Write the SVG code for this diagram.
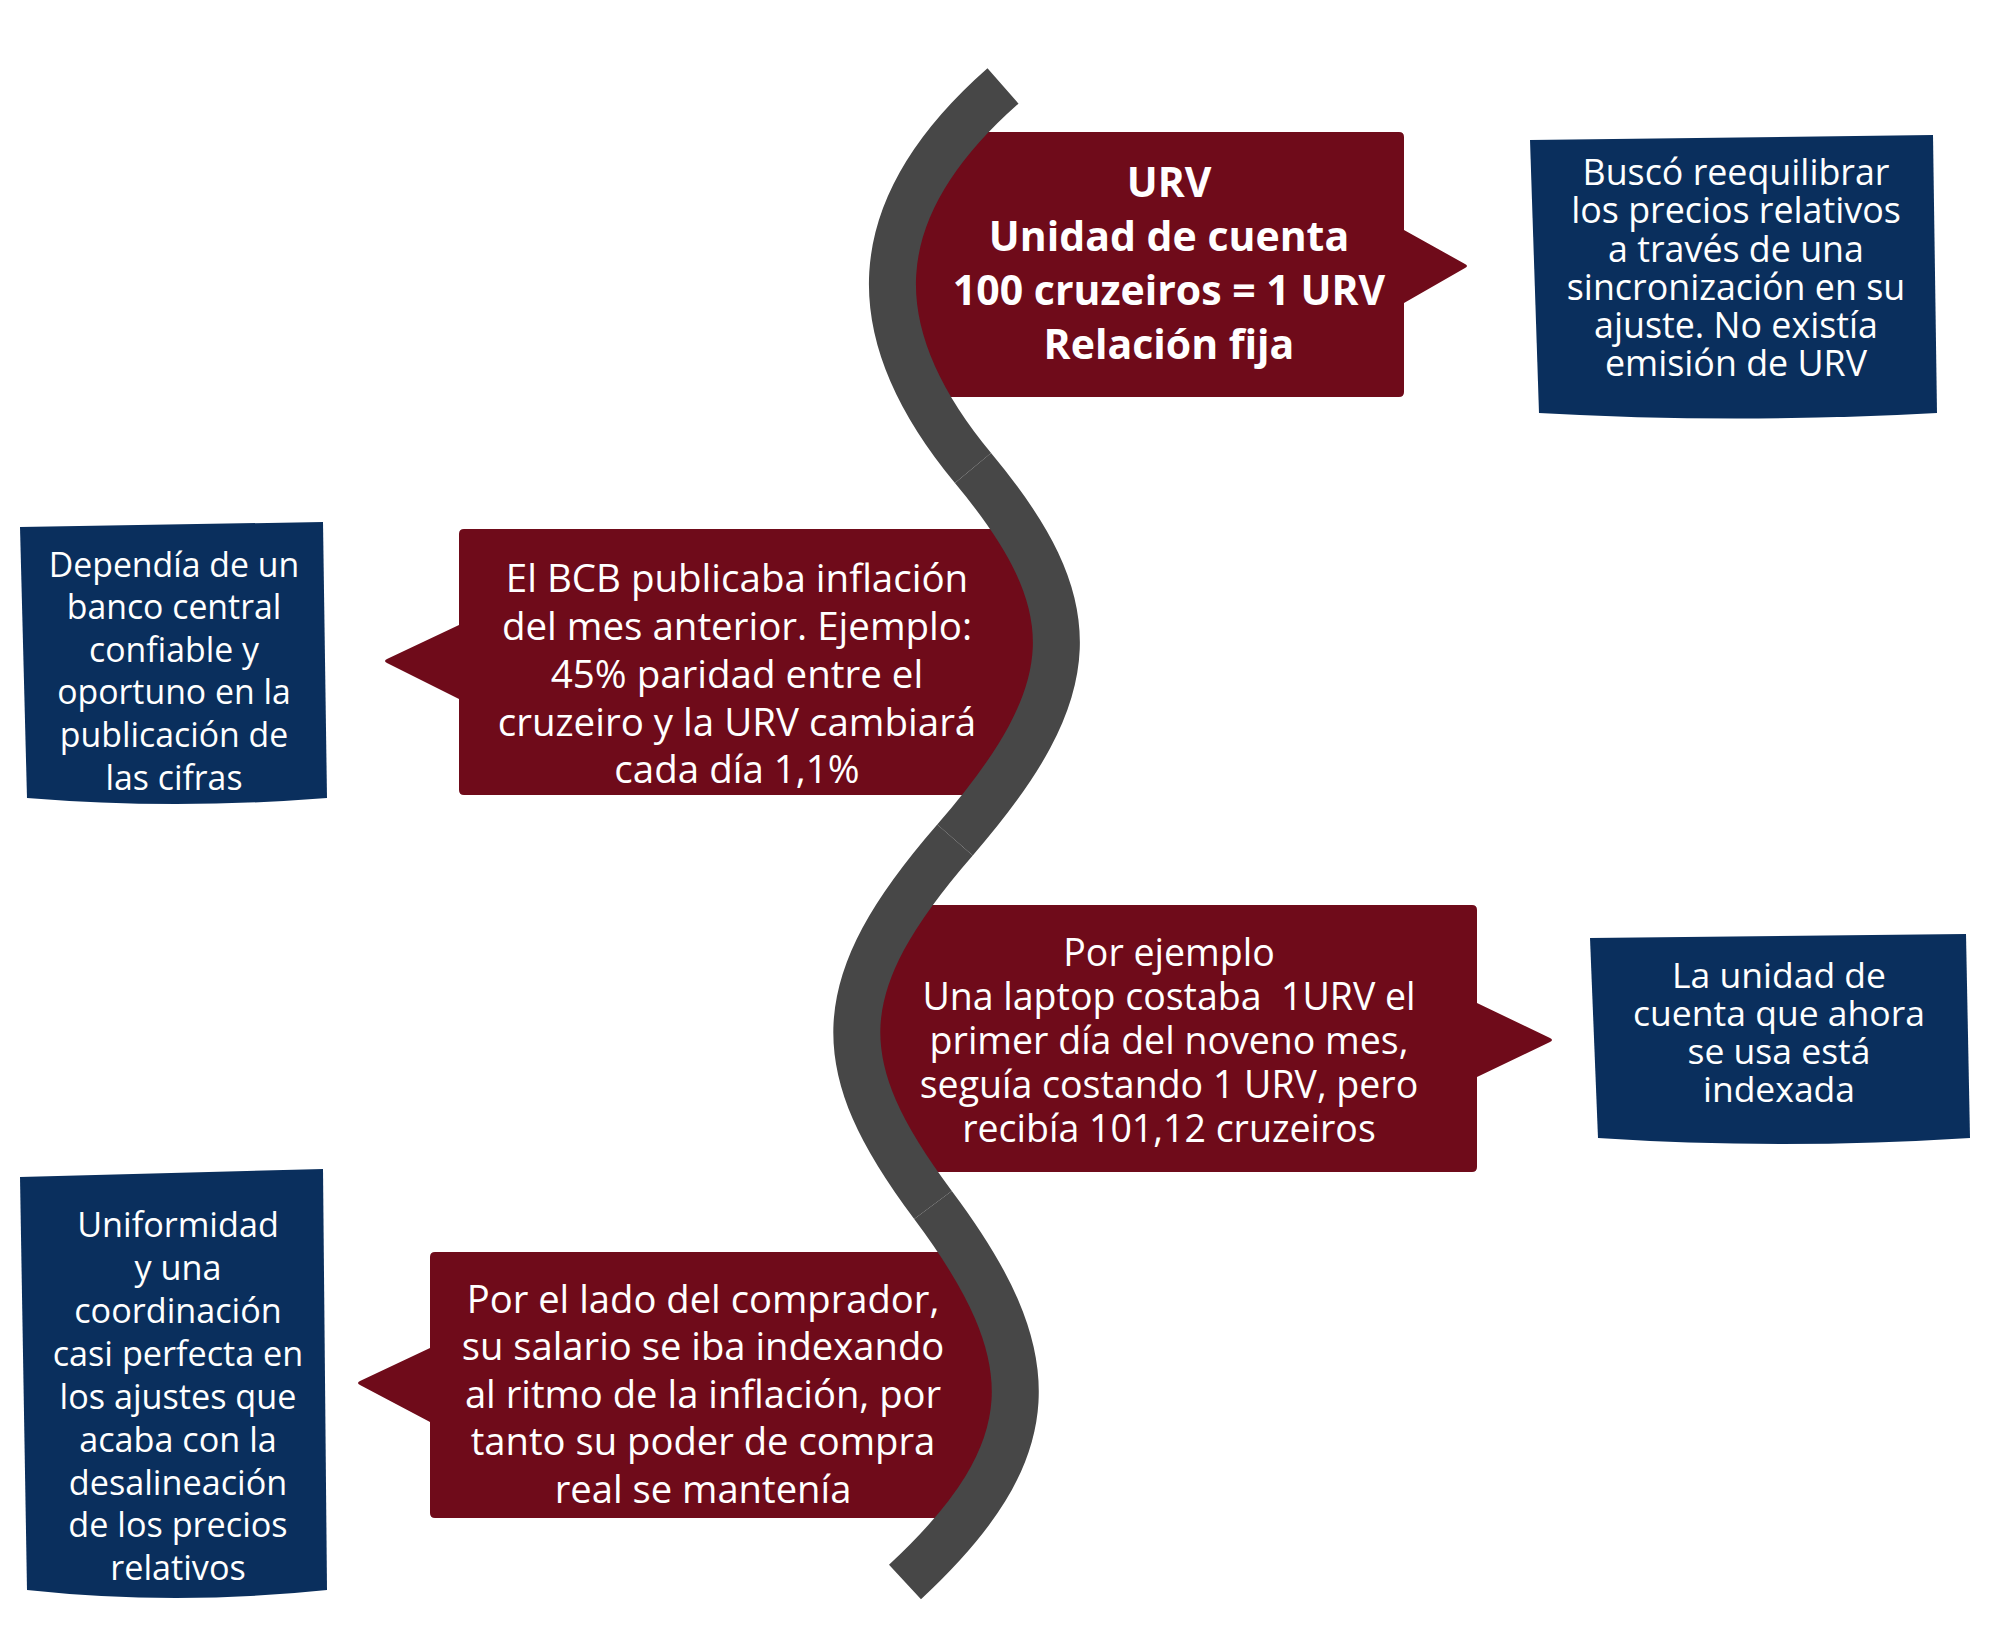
<svg xmlns="http://www.w3.org/2000/svg" width="2000" height="1652" viewBox="0 0 2000 1652">
<defs>
<style>
.red{fill:#6f0b1a}
.blue{fill:#0a2f5d}
.t{font-family:"Open Sans","Noto Sans","DejaVu Sans",sans-serif;fill:#ffffff;text-anchor:middle}
.b{font-weight:bold}
.curve{fill:none;stroke:#474747;stroke-width:47;stroke-linecap:butt}
</style>
<clipPath id="c1"><path d="M1003,86 C861,211 861,333 973,468 L1600,468 L1600,86 Z"/></clipPath>
<clipPath id="c2"><path d="M973,468 C1087,605 1087,688 955,840 L300,840 L300,468 Z"/></clipPath>
<clipPath id="c3"><path d="M955,840 C828,986 828,1065 933,1205 L1600,1205 L1600,840 Z"/></clipPath>
<clipPath id="c4"><path d="M933,1205 C1047,1357 1047,1450 905,1582 L300,1582 L300,1205 Z"/></clipPath>
</defs>
<rect width="2000" height="1652" fill="#ffffff"/>

<g id="node-urv">
<path class="red" clip-path="url(#c1)" d="M860,132 H1399 Q1404,132 1404,137 V230 L1465,264 Q1469,266 1465,268 L1404,303 V392 Q1404,397 1399,397 H860 Z"/>
<text class="t b" font-size="41"><tspan x="1169" y="197">URV</tspan><tspan x="1169" y="251">Unidad de cuenta</tspan><tspan x="1169" y="305">100 cruzeiros = 1 URV</tspan><tspan x="1169" y="359">Relación fija</tspan></text>
</g>

<g id="node-bcb">
<path class="red" clip-path="url(#c2)" d="M1100,529 H464 Q459,529 459,534 V625 L387,659 Q383,661 387,663 L459,699 V790 Q459,795 464,795 H1100 Z"/>
<text class="t" font-size="38.5"><tspan x="737" y="592">El BCB publicaba inflación</tspan><tspan x="737" y="640">del mes anterior. Ejemplo:</tspan><tspan x="737" y="688">45% paridad entre el</tspan><tspan x="737" y="736">cruzeiro y la URV cambiará</tspan><tspan x="737" y="783">cada día 1,1%</tspan></text>
</g>

<g id="node-laptop">
<path class="red" clip-path="url(#c3)" d="M800,905 H1472 Q1477,905 1477,910 V1003 L1550,1038 Q1554,1040 1550,1042 L1477,1077 V1167 Q1477,1172 1472,1172 H800 Z"/>
<text class="t" font-size="37.5" style="white-space:pre"><tspan x="1169" y="966">Por ejemplo</tspan><tspan x="1169" y="1010">Una laptop costaba  1URV el</tspan><tspan x="1169" y="1054">primer día del noveno mes,</tspan><tspan x="1169" y="1098">seguía costando 1 URV, pero</tspan><tspan x="1169" y="1142">recibía 101,12 cruzeiros</tspan></text>
</g>

<g id="node-comprador">
<path class="red" clip-path="url(#c4)" d="M1100,1252 H435 Q430,1252 430,1257 V1348 L360,1381 Q356,1383 360,1385 L430,1422 V1513 Q430,1518 435,1518 H1100 Z"/>
<text class="t" font-size="38.2"><tspan x="703" y="1313">Por el lado del comprador,</tspan><tspan x="703" y="1360">su salario se iba indexando</tspan><tspan x="703" y="1408">al ritmo de la inflación, por</tspan><tspan x="703" y="1455">tanto su poder de compra</tspan><tspan x="703" y="1503">real se mantenía</tspan></text>
</g>

<g id="node-busco">
<path class="blue" d="M1530,140 L1933,135 L1937,413 Q1735,424 1539,413 Z"/>
<text class="t" font-size="35.8"><tspan x="1736" y="185">Buscó reequilibrar</tspan><tspan x="1736" y="223">los precios relativos</tspan><tspan x="1736" y="262">a través de una</tspan><tspan x="1736" y="300">sincronización en su</tspan><tspan x="1736" y="338">ajuste. No existía</tspan><tspan x="1736" y="376">emisión de URV</tspan></text>
</g>

<g id="node-dependia">
<path class="blue" d="M20,527 L323,522 L327,798 Q175,810 27,798 Z"/>
<text class="t" font-size="33.8"><tspan x="174" y="577">Dependía de un</tspan><tspan x="174" y="619">banco central</tspan><tspan x="174" y="662">confiable y</tspan><tspan x="174" y="704">oportuno en la</tspan><tspan x="174" y="747">publicación de</tspan><tspan x="174" y="790">las cifras</tspan></text>
</g>

<g id="node-unidad">
<path class="blue" d="M1590,938 L1966,934 L1970,1138 Q1780,1150 1598,1138 Z"/>
<text class="t" font-size="35.5"><tspan x="1779" y="988">La unidad de</tspan><tspan x="1779" y="1026">cuenta que ahora</tspan><tspan x="1779" y="1064">se usa está</tspan><tspan x="1779" y="1102">indexada</tspan></text>
</g>

<g id="node-uniformidad">
<path class="blue" d="M20,1177 L323,1169 L327,1590 Q175,1606 27,1590 Z"/>
<text class="t" font-size="34.2"><tspan x="178" y="1237">Uniformidad</tspan><tspan x="178" y="1280">y una</tspan><tspan x="178" y="1323">coordinación</tspan><tspan x="178" y="1366">casi perfecta en</tspan><tspan x="178" y="1409">los ajustes que</tspan><tspan x="178" y="1452">acaba con la</tspan><tspan x="178" y="1495">desalineación</tspan><tspan x="178" y="1537">de los precios</tspan><tspan x="178" y="1580">relativos</tspan></text>
</g>

<g id="connectors">
<path class="curve" d="M1003,86 C861,211 861,333 973,468"/>
<path class="curve" d="M973,468 C1087,605 1087,688 955,840"/>
<path class="curve" d="M955,840 C828,986 828,1065 933,1205"/>
<path class="curve" d="M933,1205 C1047,1357 1047,1450 905,1582"/>
</g>
</svg>
